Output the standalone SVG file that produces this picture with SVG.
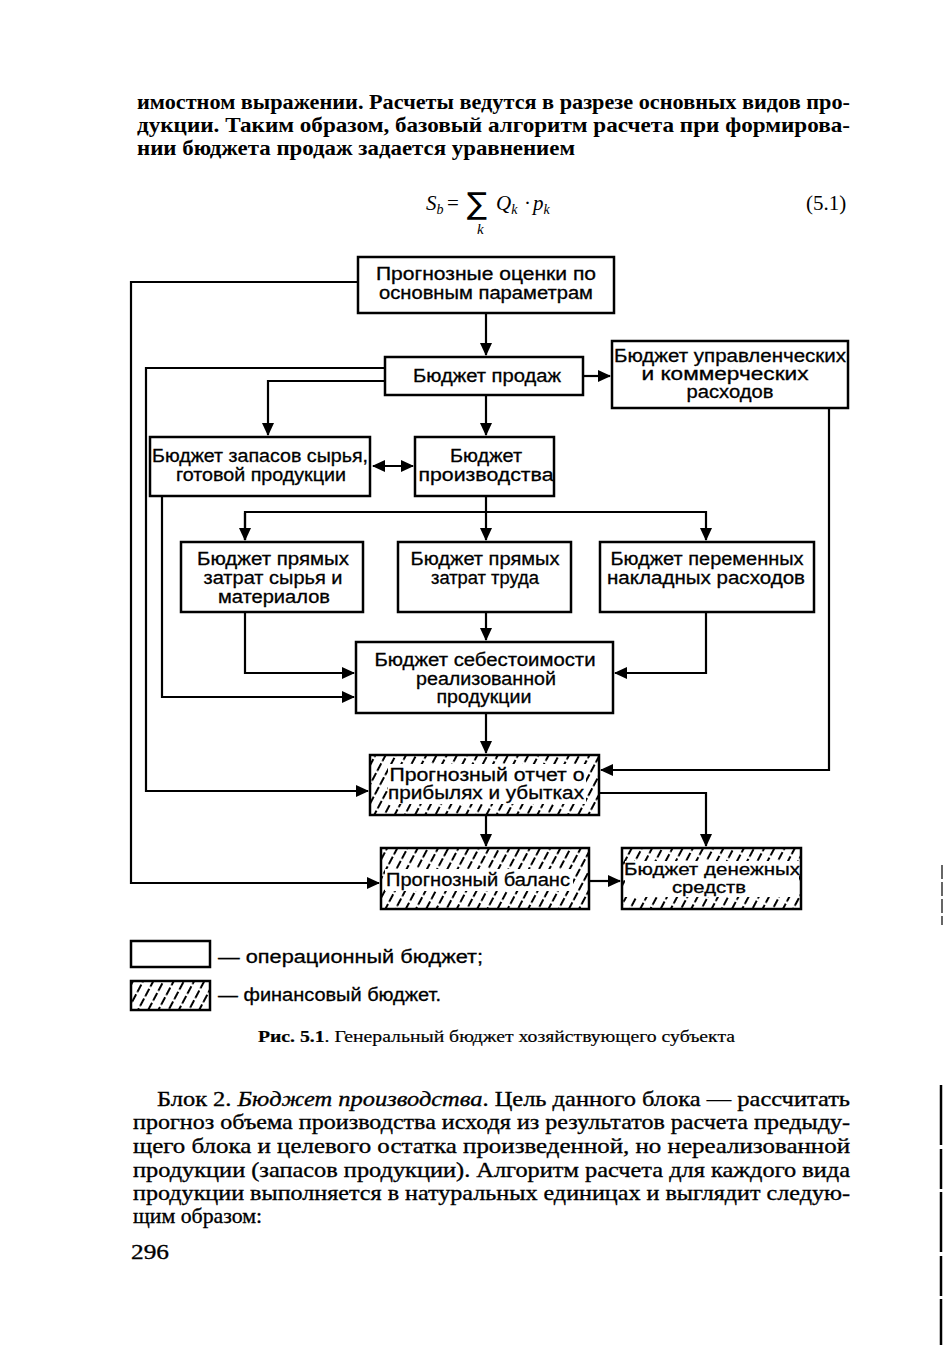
<svg xmlns="http://www.w3.org/2000/svg" width="947" height="1357" viewBox="0 0 947 1357">
<style>
.bt{font-family:"Liberation Serif",serif;font-weight:bold;font-size:22px;fill:#000}
.pt{font-family:"Liberation Serif",serif;font-size:22px;fill:#000;stroke:#000;stroke-width:0.35}
.cap{font-family:"Liberation Serif",serif;font-size:17px;fill:#000;stroke:#000;stroke-width:0.2}
.nl{font-family:"Liberation Sans",Arial,sans-serif;font-size:18px;fill:#000;stroke:#000;stroke-width:0.3}
.box{fill:#fff;stroke:#000;stroke-width:2.5}
.hbox{fill:url(#hatch);stroke:#000;stroke-width:2.5}
.wb{fill:#fff;stroke:none}
.c{fill:none;stroke:#000;stroke-width:2.2}
.eq{font-family:"Liberation Serif",serif;font-style:italic;font-size:21px;fill:#000}
.er{font-family:"Liberation Serif",serif;font-size:21px;fill:#000}
.sum{font-family:"DejaVu Sans",sans-serif;font-size:30px;fill:#000}
</style>
<defs>
<pattern id="hatch" patternUnits="userSpaceOnUse" width="9" height="11" patternTransform="rotate(28)">
<rect width="9" height="11" fill="#fff"/>
<line x1="2" y1="0" x2="2" y2="8.5" stroke="#000" stroke-width="2"/>
</pattern>
<marker id="ah" markerUnits="userSpaceOnUse" markerWidth="14" markerHeight="12" refX="12" refY="6" orient="auto">
<path d="M0,0 L13,6 L0,12 Z" fill="#000"/>
</marker>
<marker id="as" markerUnits="userSpaceOnUse" markerWidth="14" markerHeight="12" refX="1" refY="6" orient="auto">
<path d="M13,0 L0,6 L13,12 Z" fill="#000"/>
</marker>
</defs>
<rect width="947" height="1357" fill="#fff"/>

<g id="top-text">
<text class="bt" x="137" y="109" textLength="713" lengthAdjust="spacingAndGlyphs">имостном выражении. Расчеты ведутся в разрезе основных видов про-</text>
<text class="bt" x="137" y="132" textLength="713" lengthAdjust="spacingAndGlyphs">дукции. Таким образом, базовый алгоритм расчета при формирова-</text>
<text class="bt" x="137" y="155" textLength="438" lengthAdjust="spacingAndGlyphs">нии бюджета продаж задается уравнением</text>
</g>

<g id="equation">
<text class="eq" x="426" y="210">S<tspan style="font-size:14px" dy="4">b</tspan></text>
<text class="er" x="447" y="210">=</text>
<text class="sum" x="467" y="214">∑</text>
<text class="eq" x="496" y="210">Q<tspan style="font-size:14px" dy="4">k</tspan></text>
<text class="er" x="524" y="210">·</text>
<text class="eq" x="533" y="210">p<tspan style="font-size:14px" dy="4">k</tspan></text>
<text class="eq" x="477" y="234" style="font-size:15px">k</text>
<text class="er" x="806" y="210">(5.1)</text>
</g>

<g id="connectors">
<path class="c" d="M358,282 H131 V883 H379" marker-end="url(#ah)"/>
<path class="c" d="M486,313 V355" marker-end="url(#ah)"/>
<path class="c" d="M385,368 H146 V791 H368" marker-end="url(#ah)"/>
<path class="c" d="M385,381 H268 V435" marker-end="url(#ah)"/>
<path class="c" d="M583,376 H610" marker-end="url(#ah)"/>
<path class="c" d="M486,395 V435" marker-end="url(#ah)"/>
<path class="c" d="M373,466 H413" marker-start="url(#as)" marker-end="url(#ah)"/>
<path class="c" d="M486,496 V540"  marker-end="url(#ah)"/>
<path class="c" d="M245,540 V512 H706 V540" marker-end="url(#ah)"/>
<path class="c" d="M245,513 V540" marker-end="url(#ah)"/>
<path class="c" d="M162,496 V697 H354" marker-end="url(#ah)"/>
<path class="c" d="M245,612 V673 H354" marker-end="url(#ah)"/>
<path class="c" d="M486,612 V640" marker-end="url(#ah)"/>
<path class="c" d="M706,612 V673 H615" marker-end="url(#ah)"/>
<path class="c" d="M486,713 V753" marker-end="url(#ah)"/>
<path class="c" d="M829,408 V770 H601" marker-end="url(#ah)"/>
<path class="c" d="M599,793 H706 V846" marker-end="url(#ah)"/>
<path class="c" d="M486,815 V846" marker-end="url(#ah)"/>
<path class="c" d="M589,881 H620" marker-end="url(#ah)"/>
</g>

<g id="n1">
<rect class="box" x="358" y="257" width="256" height="56"/>
<text class="nl" x="486" y="280" text-anchor="middle" textLength="220" lengthAdjust="spacingAndGlyphs">Прогнозные оценки  по</text>
<text class="nl" x="486" y="299" text-anchor="middle" textLength="214" lengthAdjust="spacingAndGlyphs">основным параметрам</text>
</g>
<g id="n2">
<rect class="box" x="385" y="357" width="198" height="38"/>
<text class="nl" x="487" y="382" text-anchor="middle" textLength="148" lengthAdjust="spacingAndGlyphs">Бюджет продаж</text>
</g>
<g id="n3">
<rect class="box" x="612" y="341" width="236" height="67"/>
<text class="nl" x="730" y="362" text-anchor="middle" textLength="232" lengthAdjust="spacingAndGlyphs">Бюджет управленческих</text>
<text class="nl" x="725" y="380" text-anchor="middle" textLength="167" lengthAdjust="spacingAndGlyphs">и  коммерческих</text>
<text class="nl" x="730" y="398" text-anchor="middle" textLength="87" lengthAdjust="spacingAndGlyphs">расходов</text>
</g>
<g id="n4">
<rect class="box" x="150" y="437" width="220" height="59"/>
<text class="nl" x="260" y="462" text-anchor="middle" textLength="216" lengthAdjust="spacingAndGlyphs">Бюджет запасов сырья,</text>
<text class="nl" x="261" y="481" text-anchor="middle" textLength="170" lengthAdjust="spacingAndGlyphs">готовой продукции</text>
</g>
<g id="n5">
<rect class="box" x="415" y="437" width="139" height="59"/>
<text class="nl" x="486" y="462" text-anchor="middle" textLength="72" lengthAdjust="spacingAndGlyphs">Бюджет</text>
<text class="nl" x="486" y="481" text-anchor="middle" textLength="135" lengthAdjust="spacingAndGlyphs">производства</text>
</g>
<g id="n6">
<rect class="box" x="181" y="542" width="182" height="70"/>
<text class="nl" x="273" y="565" text-anchor="middle" textLength="152" lengthAdjust="spacingAndGlyphs">Бюджет прямых</text>
<text class="nl" x="273" y="584" text-anchor="middle" textLength="139" lengthAdjust="spacingAndGlyphs">затрат сырья и</text>
<text class="nl" x="274" y="603" text-anchor="middle" textLength="112" lengthAdjust="spacingAndGlyphs">материалов</text>
</g>
<g id="n7">
<rect class="box" x="398" y="542" width="173" height="70"/>
<text class="nl" x="485" y="565" text-anchor="middle" textLength="149" lengthAdjust="spacingAndGlyphs">Бюджет прямых</text>
<text class="nl" x="485" y="584" text-anchor="middle" textLength="108" lengthAdjust="spacingAndGlyphs">затрат труда</text>
</g>
<g id="n8">
<rect class="box" x="600" y="542" width="214" height="70"/>
<text class="nl" x="707" y="565" text-anchor="middle" textLength="193" lengthAdjust="spacingAndGlyphs">Бюджет переменных</text>
<text class="nl" x="706" y="584" text-anchor="middle" textLength="198" lengthAdjust="spacingAndGlyphs">накладных расходов</text>
</g>
<g id="n9">
<rect class="box" x="356" y="642" width="257" height="71"/>
<text class="nl" x="485" y="666" text-anchor="middle" textLength="221" lengthAdjust="spacingAndGlyphs">Бюджет себестоимости</text>
<text class="nl" x="486" y="685" text-anchor="middle" textLength="140" lengthAdjust="spacingAndGlyphs">реализованной</text>
<text class="nl" x="484" y="703" text-anchor="middle" textLength="95" lengthAdjust="spacingAndGlyphs">продукции</text>
</g>
<g id="n10">
<rect class="hbox" x="370" y="755" width="229" height="60"/>
<rect class="wb" x="388" y="764" width="198" height="40"/>
<text class="nl" x="487" y="781" text-anchor="middle" textLength="195" lengthAdjust="spacingAndGlyphs">Прогнозный отчет о</text>
<text class="nl" x="486" y="799" text-anchor="middle" textLength="196" lengthAdjust="spacingAndGlyphs">прибылях и  убытках</text>
</g>
<g id="n11">
<rect class="hbox" x="381" y="848" width="208" height="61"/>
<rect class="wb" x="385" y="869" width="188" height="22"/>
<text class="nl" x="478" y="886" text-anchor="middle" textLength="184" lengthAdjust="spacingAndGlyphs">Прогнозный баланс</text>
</g>
<g id="n12">
<rect class="hbox" x="622" y="848" width="179" height="61"/>
<rect class="wb" x="625" y="861" width="174" height="36"/>
<text class="nl" x="712" y="875" text-anchor="middle" style="font-size:16px" textLength="176" lengthAdjust="spacingAndGlyphs">Бюджет денежных</text>
<text class="nl" x="709" y="893" text-anchor="middle" style="font-size:16px" textLength="74" lengthAdjust="spacingAndGlyphs">средств</text>
</g>

<g id="legend">
<rect class="box" x="131" y="941" width="79" height="26"/>
<text class="nl" x="218" y="963" textLength="265" lengthAdjust="spacingAndGlyphs">— операционный бюджет;</text>
<rect class="hbox" x="131" y="981" width="79" height="29"/>
<text class="nl" x="218" y="1001" textLength="223" lengthAdjust="spacingAndGlyphs">— финансовый бюджет.</text>
</g>

<g id="caption">
<text class="cap" x="258" y="1042" textLength="477" lengthAdjust="spacingAndGlyphs"><tspan font-weight="bold">Рис. 5.1</tspan>. Генеральный бюджет хозяйствующего субъекта</text>
</g>

<g id="bottom-text">
<text class="pt" x="157" y="1106" textLength="693" lengthAdjust="spacingAndGlyphs">Блок 2. <tspan font-style="italic">Бюджет производства</tspan>. Цель данного блока — рассчитать</text>
<text class="pt" x="133" y="1129" textLength="717" lengthAdjust="spacingAndGlyphs">прогноз объема производства исходя из результатов расчета предыду-</text>
<text class="pt" x="133" y="1153" textLength="717" lengthAdjust="spacingAndGlyphs">щего блока и целевого остатка произведенной, но нереализованной</text>
<text class="pt" x="133" y="1177" textLength="717" lengthAdjust="spacingAndGlyphs">продукции (запасов продукции). Алгоритм расчета для каждого вида</text>
<text class="pt" x="133" y="1200" textLength="717" lengthAdjust="spacingAndGlyphs">продукции выполняется в натуральных единицах и выглядит следую-</text>
<text class="pt" x="133" y="1223" textLength="129" lengthAdjust="spacingAndGlyphs">щим образом:</text>
<text class="pt" x="131" y="1259" textLength="38" lengthAdjust="spacingAndGlyphs">296</text>
</g>

<g id="edge-marks">
<line x1="942" y1="865" x2="942" y2="925" stroke="#000" stroke-width="1.2" stroke-dasharray="14 3"/>
<line x1="941" y1="1085" x2="941" y2="1345" stroke="#000" stroke-width="2.5" stroke-dasharray="60 4 40 3"/>
</g>
</svg>
